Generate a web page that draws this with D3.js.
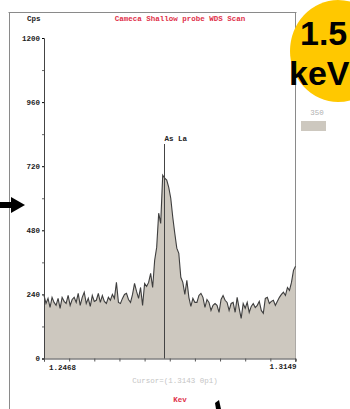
<!DOCTYPE html>
<html><head><meta charset="utf-8">
<script src="https://cdn.jsdelivr.net/npm/d3@7"></script>
<style>body{margin:0;background:#fff}svg{display:block}</style>
</head><body>
<script>
// ---- data ----
const title = "Cameca Shallow probe WDS Scan";
const yTicksMajor = [0, 240, 480, 720, 960, 1200];
const yTicksMinor = [120, 360, 600, 840, 1080];
const energyStart = 1.2468;
const energyEnd = 1.3149;
const xTickLabels = ["1.2468", "1.3149"];
const xTickCount = 10;
const peakLabel = "As La";
const peakEnergy = 1.2794;
const legendLabel = "350";
const cursorText = "Cursor=(1.3143 0p1)";
const unitText = "Kev";
const counts = [
 236,206,225,191,229,210,199,225,188,229,214,206,236,199,221,229,210,244,199,229,
 248,206,225,195,236,214,218,244,210,236,214,206,229,218,240,225,285,210,206,225,
 240,244,221,210,240,281,251,225,266,199,281,270,285,319,266,368,416,544,506,686,
 675,668,641,600,529,469,413,394,304,285,240,293,229,195,225,210,210,236,244,229,
 191,221,210,180,199,206,199,173,221,236,218,210,180,206,210,173,229,188,150,206,
 188,210,173,195,206,191,199,214,180,169,225,229,206,214,218,199,214,229,240,248,
 236,266,255,285,330,345
];

const W = 350, H = 409;
const svg = d3.select("body").append("svg").attr("width", W).attr("height", H);
const mono = "'Liberation Mono', 'DejaVu Sans Mono', monospace";

const x0 = 44, x1 = 295.5, yTop = 38, yBot = 358.5;
const n = counts.length;
const step = (energyEnd - energyStart) / (n - 1);
const data = counts.map((c, i) => ({e: energyStart + i * step, c}));

const x = d3.scaleLinear().domain([energyStart, energyEnd]).range([x0, x1]);
const y = d3.scaleLinear().domain([0, 1200]).range([yBot, yTop]);

// frame
svg.append("line").attr("x1", 8.5).attr("x2", 296.5).attr("y1", 12.5).attr("y2", 12.5).attr("stroke", "#8a8a8a");
svg.append("line").attr("x1", 9.5).attr("x2", 9.5).attr("y1", 12).attr("y2", 409).attr("stroke", "#8a8a8a");
svg.append("line").attr("x1", 295.5).attr("x2", 295.5).attr("y1", 12).attr("y2", 362).attr("stroke", "#8a8a8a");

// area + line
svg.append("path").datum(data)
  .attr("d", d3.area().x(d => x(d.e)).y0(yBot).y1(d => y(d.c)))
  .attr("fill", "#cdc8bf");
svg.append("path").datum(data)
  .attr("d", d3.line().x(d => x(d.e)).y(d => y(d.c)))
  .attr("fill", "none").attr("stroke", "#3e3e3e").attr("stroke-width", 1.1);

// y axis
const yAxis = svg.append("g").attr("transform", `translate(${x0},0)`)
  .call(d3.axisLeft(y).tickValues(yTicksMajor).tickSize(2).tickPadding(2).tickFormat(d3.format("d")));
yAxis.select(".domain").attr("stroke", "#444");
yAxis.selectAll("text").attr("font-family", mono).attr("font-size", 7.5).attr("font-weight", "bold").attr("fill", "#222");
svg.append("g").attr("transform", `translate(${x0},0)`)
  .call(d3.axisLeft(y).tickValues(yTicksMinor).tickSize(2).tickFormat(""))
  .call(g => g.select(".domain").remove())
  .selectAll("line").attr("stroke", "#666");

// x axis
const xAxis = svg.append("g").attr("transform", `translate(0,${yBot})`)
  .call(d3.axisBottom(x).tickValues(d3.range(xTickCount + 1).map(i => energyStart + i * (energyEnd - energyStart) / xTickCount)).tickSize(3).tickFormat(""));
xAxis.select(".domain").attr("stroke", "#444");
xAxis.selectAll("line").attr("stroke", "#555");

svg.append("text").attr("x", x(energyStart) + 5).attr("y", 370).text(xTickLabels[0])
  .attr("font-family", mono).attr("font-size", 7.5).attr("font-weight", "bold").attr("fill", "#222");
svg.append("text").attr("x", x(energyEnd) + 1).attr("y", 369).attr("text-anchor", "end").text(xTickLabels[1])
  .attr("font-family", mono).attr("font-size", 7.5).attr("font-weight", "bold").attr("fill", "#222");

// peak marker
svg.append("line").attr("x1", Math.round(x(peakEnergy)) + 0.5).attr("x2", Math.round(x(peakEnergy)) + 0.5)
  .attr("y1", 144).attr("y2", yBot).attr("stroke", "#444");
svg.append("text").attr("x", x(peakEnergy)).attr("y", 141).text(peakLabel)
  .attr("font-family", mono).attr("font-size", 7.5).attr("font-weight", "bold").attr("fill", "#222");

// titles
svg.append("text").attr("x", 180).attr("y", 21).attr("text-anchor", "middle").text(title)
  .attr("font-family", mono).attr("font-size", 7.5).attr("font-weight", "bold").attr("fill", "#e0304a");
svg.append("text").attr("x", 27).attr("y", 21).text("Cps")
  .attr("font-family", mono).attr("font-size", 7.5).attr("font-weight", "bold").attr("fill", "#222");
svg.append("text").attr("x", 175).attr("y", 383).attr("text-anchor", "middle").text(cursorText)
  .attr("font-family", mono).attr("font-size", 7.5).attr("fill", "#c4c4c4");
svg.append("text").attr("x", 180).attr("y", 402).attr("text-anchor", "middle").text(unitText)
  .attr("font-family", mono).attr("font-size", 7.5).attr("font-weight", "bold").attr("fill", "#e0304a");

// legend
svg.append("text").attr("x", 317).attr("y", 115).attr("text-anchor", "middle").text(legendLabel)
  .attr("font-family", mono).attr("font-size", 7.5).attr("fill", "#b0b0b0");
svg.append("rect").attr("x", 301).attr("y", 121).attr("width", 25).attr("height", 10).attr("fill", "#cdc8bf");

// annotation bubble
svg.append("ellipse").attr("cx", 338).attr("cy", 51).attr("rx", 48).attr("ry", 51).attr("fill", "#ffc800");
svg.append("text").attr("x", 300).attr("y", 45).text("1.5")
  .attr("font-family", "'Liberation Sans', Arial, sans-serif").attr("font-size", 34).attr("font-weight", "bold").attr("fill", "#000");
svg.append("text").attr("x", 289).attr("y", 85).text("keV")
  .attr("font-family", "'Liberation Sans', Arial, sans-serif").attr("font-size", 34).attr("font-weight", "bold").attr("fill", "#000");

// arrows
svg.append("polygon").attr("points", "0,202 11,202 11,197 25,205 11,213 11,208 0,208").attr("fill", "#000");
svg.append("polygon").attr("points", "215,403 219,400 221,409 216,409").attr("fill", "#000");
</script>
</body></html>
